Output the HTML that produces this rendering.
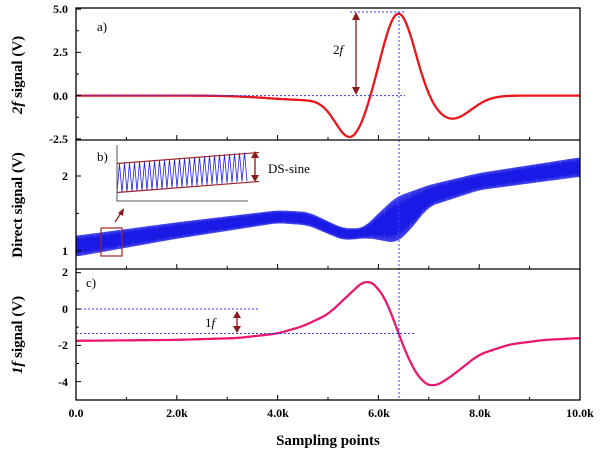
<!DOCTYPE html><html><head><style>body{margin:0;background:#fff}svg{display:block;font-family:"Liberation Serif",serif}</style></head><body>
<svg id="s" width="600" height="453" xmlns="http://www.w3.org/2000/svg">
<g id="g"></g>
<g font-weight="bold" font-size="12" text-anchor="end" fill="#000">
<text x="68" y="13">5.0</text><text x="68" y="56">2.5</text><text x="68" y="100">0.0</text><text x="68" y="143">-2.5</text>
<text x="68" y="180">2</text><text x="68" y="255">1</text>
<text x="68" y="276">2</text><text x="68" y="313">0</text><text x="68" y="349">-2</text><text x="68" y="386">-4</text>
</g>
<g font-weight="bold" font-size="12" text-anchor="middle">
<text x="76" y="417">0.0</text><text x="177" y="417">2.0k</text><text x="278" y="417">4.0k</text><text x="379" y="417">6.0k</text><text x="480" y="417">8.0k</text><text x="580" y="417">10.0k</text>
<text x="328" y="445" font-size="15">Sampling points</text>
<text transform="translate(22,75) rotate(-90)" font-size="15"><tspan font-style="italic">2f</tspan> signal (V)</text>
<text transform="translate(22,205) rotate(-90)" font-size="15">Direct signal (V)</text>
<text transform="translate(22,335) rotate(-90)" font-size="15"><tspan font-style="italic">1f</tspan> signal (V)</text>
</g>
<g font-size="13"><text x="97" y="31">a)</text><text x="97" y="161">b)</text><text x="86" y="287">c)</text>
<text x="268" y="173">DS-sine</text><text x="333" y="54">2<tspan font-style="italic">f</tspan></text><text x="205" y="327">1<tspan font-style="italic">f</tspan></text></g>
</svg>
<script>
const g=document.getElementById('g');let h='';
const X=k=>76+50.4*k;
const Ya=v=>95.6-17.3*v, Yc=v=>309-18.17*v, Yb=v=>325.4-74.7*v;
function interp(pts,x){for(let i=0;i<pts.length-1;i++){if(x<=pts[i+1][0]){const t=(x-pts[i][0])/(pts[i+1][0]-pts[i][0]);return pts[i][1]+t*(pts[i+1][1]-pts[i][1]);}}return pts[pts.length-1][1];}
function smooth(pts,x){let s=0,n=0;for(let j=-10;j<=10;j++){const xx=Math.min(10,Math.max(0,x+j*0.015));s+=interp(pts,xx);n++;}return s/n;}
let d='';for(let i=0;i<=500;i++){const x=i/50;let v=4.8*Math.exp(-(((x-6.4)/0.45)**2))-2.3*Math.exp(-(((x-5.45)/0.42)**2))-1.35*Math.exp(-(((x-7.45)/0.55)**2))-0.25*Math.exp(-(((x-4.6)/1.1)**2));d+=(i?'L':'M')+X(x).toFixed(1)+' '+Ya(v).toFixed(1);}
h+=`<path d="${d}" fill="none" stroke="#e8151b" stroke-width="2.3"/>`;
const c1=[[0,-1.75],[2,-1.7],[3.2,-1.6],[4,-1.35],[4.5,-0.95],[5,-0.3],[5.4,0.75],[5.75,1.65],[6.0,1.2],[6.2,0.2],[6.4,-1.35],[6.6,-2.8],[6.85,-4.0],[7.1,-4.3],[7.4,-3.8],[8,-2.5],[8.6,-1.95],[9.3,-1.7],[10,-1.6]];
d='';for(let i=0;i<=500;i++){const x=i/50;d+=(i?'L':'M')+X(x).toFixed(1)+' '+Yc(smooth(c1,x)).toFixed(1);}
h+=`<path d="${d}" fill="none" stroke="#e8196e" stroke-width="2.3" stroke-linejoin="round"/>`;
const hi=[[0,1.20],[2,1.38],[4,1.54],[4.6,1.52],[5.3,1.3],[5.7,1.3],[6.0,1.5],[6.35,1.72],[7,1.88],[8,2.04],[10,2.25]];
const lo=[[0,0.92],[2,1.16],[4,1.37],[4.6,1.34],[5.3,1.14],[5.8,1.17],[6.35,1.10],[6.6,1.25],[7,1.59],[8,1.81],[10,1.99]];
d='';for(let i=0;i<=1000;i++){const x=i/100;const v=(i%2)?smooth(hi,x):smooth(lo,x);d+=(i?'L':'M')+X(x).toFixed(1)+' '+Yb(v).toFixed(1);}
h+=`<path d="${d}" fill="none" stroke="#1a1ae6" stroke-width="0.8"/>`;
d='';for(let i=0;i<=52;i++){const x=117+i*2.5;const t=(x-117)/143;const y=(i%2)?164-13*t:193-13*t;d+=(i?'L':'M')+x+' '+y;}
h+=`<path d="${d}" fill="none" stroke="#2020e0" stroke-width="0.8"/>`;
h+=`<path d="M117 145V201H248" fill="none" stroke="#555" stroke-width="1"/><path d="M117 163.5L259 152.5M117 192.5L259 181.5" stroke="#a0252a" stroke-width="1.2"/>`;
h+=`<path d="M255 154V179" stroke="#8b1a1a" stroke-width="1.3"/><path d="M251 158L255 151L259 158ZM251 175L255 182L259 175Z" fill="#8b1a1a"/>`;
h+=`<rect x="101" y="228" width="21" height="28" fill="none" stroke="#a0252a" stroke-width="1.2"/><path d="M115 222L121 213" stroke="#8b1a1a" stroke-width="1.3"/><path d="M118 213L124 208L123 216Z" fill="#8b1a1a"/>`;
h+=`<g stroke="#3b3bf0" stroke-width="1" stroke-dasharray="2,2" fill="none"><path d="M76 95.6H405M350 12H405M399 12V400M76 309H260M76 333.5H415"/></g>`;
h+=`<path d="M356 16V91" stroke="#8b1a1a" stroke-width="1.3"/><path d="M352 20L356 12L360 20ZM352 87L356 95L360 87Z" fill="#8b1a1a"/>`;
h+=`<path d="M237 316V328" stroke="#8b1a1a" stroke-width="1.3"/><path d="M233 318L237 311L241 318ZM233 326L237 333L241 326Z" fill="#8b1a1a"/>`;
h+=`<g fill="none" stroke="#000" stroke-width="1.3"><rect x="76" y="8" width="504" height="392"/><path d="M76 140H580M76 269H580"/></g>`;
let t='';for(let k=0;k<=10;k++){const x=X(k);const L=k%2?3:5;[140,269,400].forEach(y=>t+=`M${x} ${y}v-${L}`);}
[5,2.5,0,-2.5].forEach(v=>t+=`M76 ${Ya(v)}h5`);[3.75,1.25,-1.25].forEach(v=>t+=`M76 ${Ya(v)}h3`);
[2,1].forEach(v=>t+=`M76 ${Yb(v)}h5`);[1.5].forEach(v=>t+=`M76 ${Yb(v)}h3`);
[2,0,-2,-4].forEach(v=>t+=`M76 ${Yc(v)}h5`);[1,-1,-3].forEach(v=>t+=`M76 ${Yc(v)}h3`);
h+=`<path d="${t}" stroke="#000" stroke-width="1"/>`;
g.innerHTML=h;
</script></body></html>
